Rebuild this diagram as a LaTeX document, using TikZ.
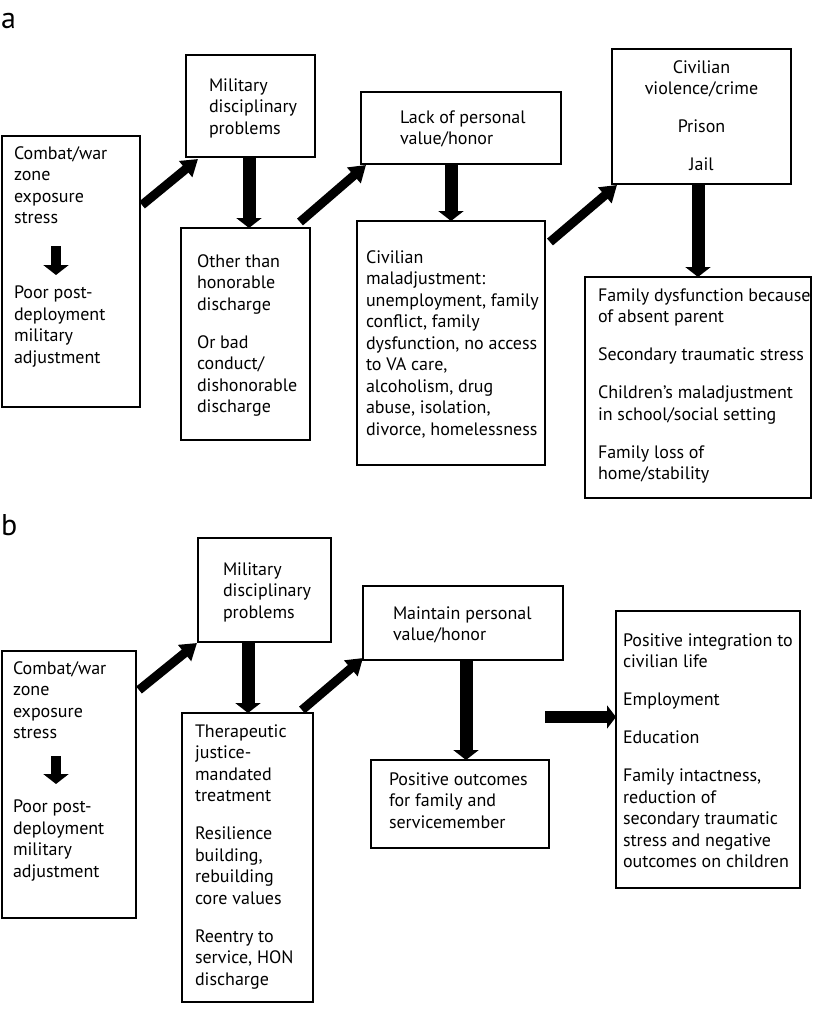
\documentclass[tikz,border=0pt]{standalone}
\usepackage{fontspec}
\setmainfont{PT Sans}
\usetikzlibrary{arrows.meta,calc}
\newcommand{\gap}{\par\vspace{16.5pt}}
% width, height, left pad, first baseline, content
\newcommand{\bl}[5]{\parbox[c][#2pt][t]{#1pt}{\raggedright\leftskip=#3pt\relax\fontsize{18}{21.5}\selectfont\vspace*{\dimexpr#4pt-15.05pt\relax}\strut#5\par}}
\newcommand{\bcn}[4]{\parbox[c][#2pt][t]{#1pt}{\centering\fontsize{18}{21.5}\selectfont\vspace*{\dimexpr#3pt-15.05pt\relax}\strut#4\par}}
\tikzset{
  box/.style={draw, line width=1.1pt, anchor=north west, inner sep=0pt, outer sep=0pt},
  varr/.style={line width=13pt, -{Triangle[width=25pt,length=10pt]}},
  darr/.style={line width=9pt, -{Triangle[width=20pt,length=16pt]}},
  harr/.style={line width=12pt, -{Triangle[width=23pt,length=9pt]}},
  sarr/.style={line width=10pt, -{Triangle[width=25pt,length=10pt]}},
  lbl/.style={anchor=base west, inner sep=0pt, font=\fontsize{30}{30}\selectfont}
}
\begin{document}
\begin{tikzpicture}[x=1pt,y=-1pt]
\useasboundingbox (0,0) rectangle (812,1012);
\node[lbl] (la) at (1,28) {a};
\node[lbl] (lb) at (1,535) {b};
% panel a
\node[box] (a1) at (2,136) {\bl{138}{271}{12}{23}{Combat/war\\zone\\exposure\\stress\par\vspace{53.5pt}Poor post-\\deployment\\military\\adjustment}};
\node[box] (a2) at (186,55) {\bl{129}{102}{23}{36}{Military\\disciplinary\\problems}};
\node[box] (a3) at (181,228) {\bl{129}{212}{16}{39}{Other than\\honorable\\discharge\gap Or bad\\conduct/\\dishonorable\\discharge}};
\node[box] (a4) at (361,92) {\bl{200}{72}{39}{31}{Lack of personal\\value/honor}};
\node[box] (a5) at (357,221) {\bl{188}{244}{9}{42}{Civilian\\maladjustment:\\unemployment, family\\conflict, family\\dysfunction, no access\\to VA care,\\alcoholism, drug\\abuse, isolation,\\divorce, homelessness}};
\node[box] (a6) at (612,49) {\bcn{179}{135}{24}{Civilian\\violence/crime\gap Prison\gap Jail}};
\node[box] (a7) at (585,277) {\bl{226}{221}{13}{24}{Family dysfunction because\\of absent parent\gap Secondary traumatic stress\gap Children’s maladjustment\\in school/social setting\gap Family loss of\\home/stability}};
\coordinate (a1s) at ($(a1.north west)+(54,110)$);
\coordinate (a1e) at ($(a1.north west)+(54,139)$);
\draw[sarr] (a1s) -- (a1e);
\draw[darr] ($(a1.north east)+(2,69)$) -- ($(a2.south west)+(12,2)$);
\draw[varr] ($(a2.south west)+(63,0)$) -- ($(a3.north west)+(68,0)$);
\draw[darr] ($(a3.north east)+(-10,-6)$) -- ($(a4.south west)+(5,1)$);
\draw[varr] ($(a4.south west)+(90,0)$) -- ($(a5.north west)+(94,0)$);
\draw[darr] ($(a5.north east)+(5,21)$) -- ($(a6.south west)+(5,1)$);
\draw[varr] ($(a6.south west)+(86,0)$) -- ($(a7.north west)+(113,0)$);
% panel b
\node[box] (b1) at (2,651) {\bl{134}{267}{11}{23}{Combat/war\\zone\\exposure\\stress\par\vspace{52.5pt}Poor post-\\deployment\\military\\adjustment}};
\node[box] (b2) at (198,538) {\bl{133}{104}{25}{37}{Military\\disciplinary\\problems}};
\node[box] (b3) at (182,713) {\bl{131}{289}{13}{24}{Therapeutic\\justice-\\mandated\\treatment\gap Resilience\\building,\\rebuilding\\core values\gap Reentry to\\service, HON\\discharge}};
\node[box] (b4) at (363,586) {\bl{200}{74}{30}{33}{Maintain personal\\value/honor}};
\node[box] (b5) at (371,760) {\bl{178}{88}{18}{25}{Positive outcomes\\for family and\\servicemember}};
\node[box] (b6) at (616,611) {\bl{184}{277}{7}{35}{Positive integration to\\civilian life\gap Employment\gap Education\gap Family intactness,\\reduction of\\secondary traumatic\\stress and negative\\outcomes on children}};
\coordinate (b1s) at ($(b1.north west)+(54,105)$);
\coordinate (b1e) at ($(b1.north west)+(54,133)$);
\draw[sarr] (b1s) -- (b1e);
\draw[darr] ($(b1.north east)+(3,39)$) -- ($(b2.south west)+(-1,1)$);
\draw[varr] ($(b2.south west)+(50,0)$) -- ($(b3.north west)+(66,0)$);
\draw[darr] ($(b3.north east)+(-11,-3)$) -- ($(b4.south west)+(0,-2)$);
\draw[varr] ($(b4.south west)+(103,0)$) -- ($(b5.north west)+(95,0)$);
\draw[harr] ($(b6.north west)+(-71,106)$) -- ($(b6.north west)+(0,106)$);
\end{tikzpicture}
\end{document}
